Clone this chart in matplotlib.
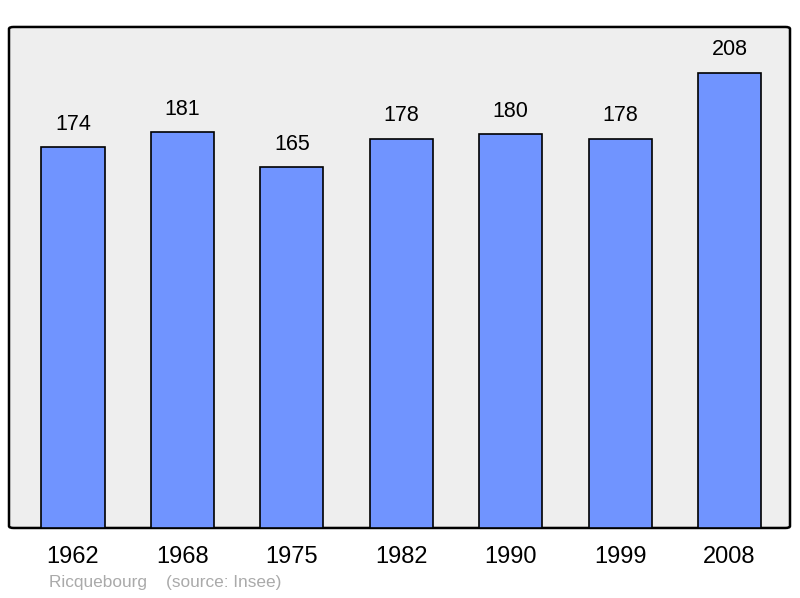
import matplotlib.pyplot as plt
from matplotlib.patches import FancyBboxPatch

plt.rcParams['font.family'] = ['Liberation Sans', 'DejaVu Sans']

years = ['1962', '1968', '1975', '1982', '1990', '1999', '2008']
population = [174, 181, 165, 178, 180, 178, 208]
caption = 'Ricquebourg    (source: Insee)'

fig = plt.figure(figsize=(8, 5.98), dpi=100)
ax = fig.add_axes([0.01125, 0.1171, 0.97625, 0.8378])
ax.patch.set_visible(False)

# rounded frame behind the axes
frame = FancyBboxPatch((0, 0), 1, 1, boxstyle='round,pad=0,rounding_size=0.006',
                       transform=ax.transAxes, facecolor='#eeeeee',
                       edgecolor='black', linewidth=1.8, zorder=0,
                       clip_on=False, mutation_aspect=501 / 781)
ax.add_patch(frame)

x = range(len(years))
bars = ax.bar(x, population, width=0.576, color='#7094ff',
              edgecolor='black', linewidth=1.2, zorder=2)
for xi, v in zip(x, population):
    ax.annotate(str(v), (xi, v), xytext=(0, 16.5), textcoords='offset points',
                ha='center', va='center', fontsize=15.5)

ax.set_xlim(-0.585, 6.553)
ax.set_ylim(0, 229)
ax.set_yticks([])
ax.set_xticks(list(x))
ax.set_xticklabels(years, fontsize=17)
ax.tick_params(axis='x', length=0, pad=13)
for s in ax.spines.values():
    s.set_visible(False)

fig.text(49 / 800, 1 - 583 / 598, caption, fontsize=12.4, color='#aaaaaa',
         ha='left', va='center')

fig.savefig('out.png', dpi=100)
